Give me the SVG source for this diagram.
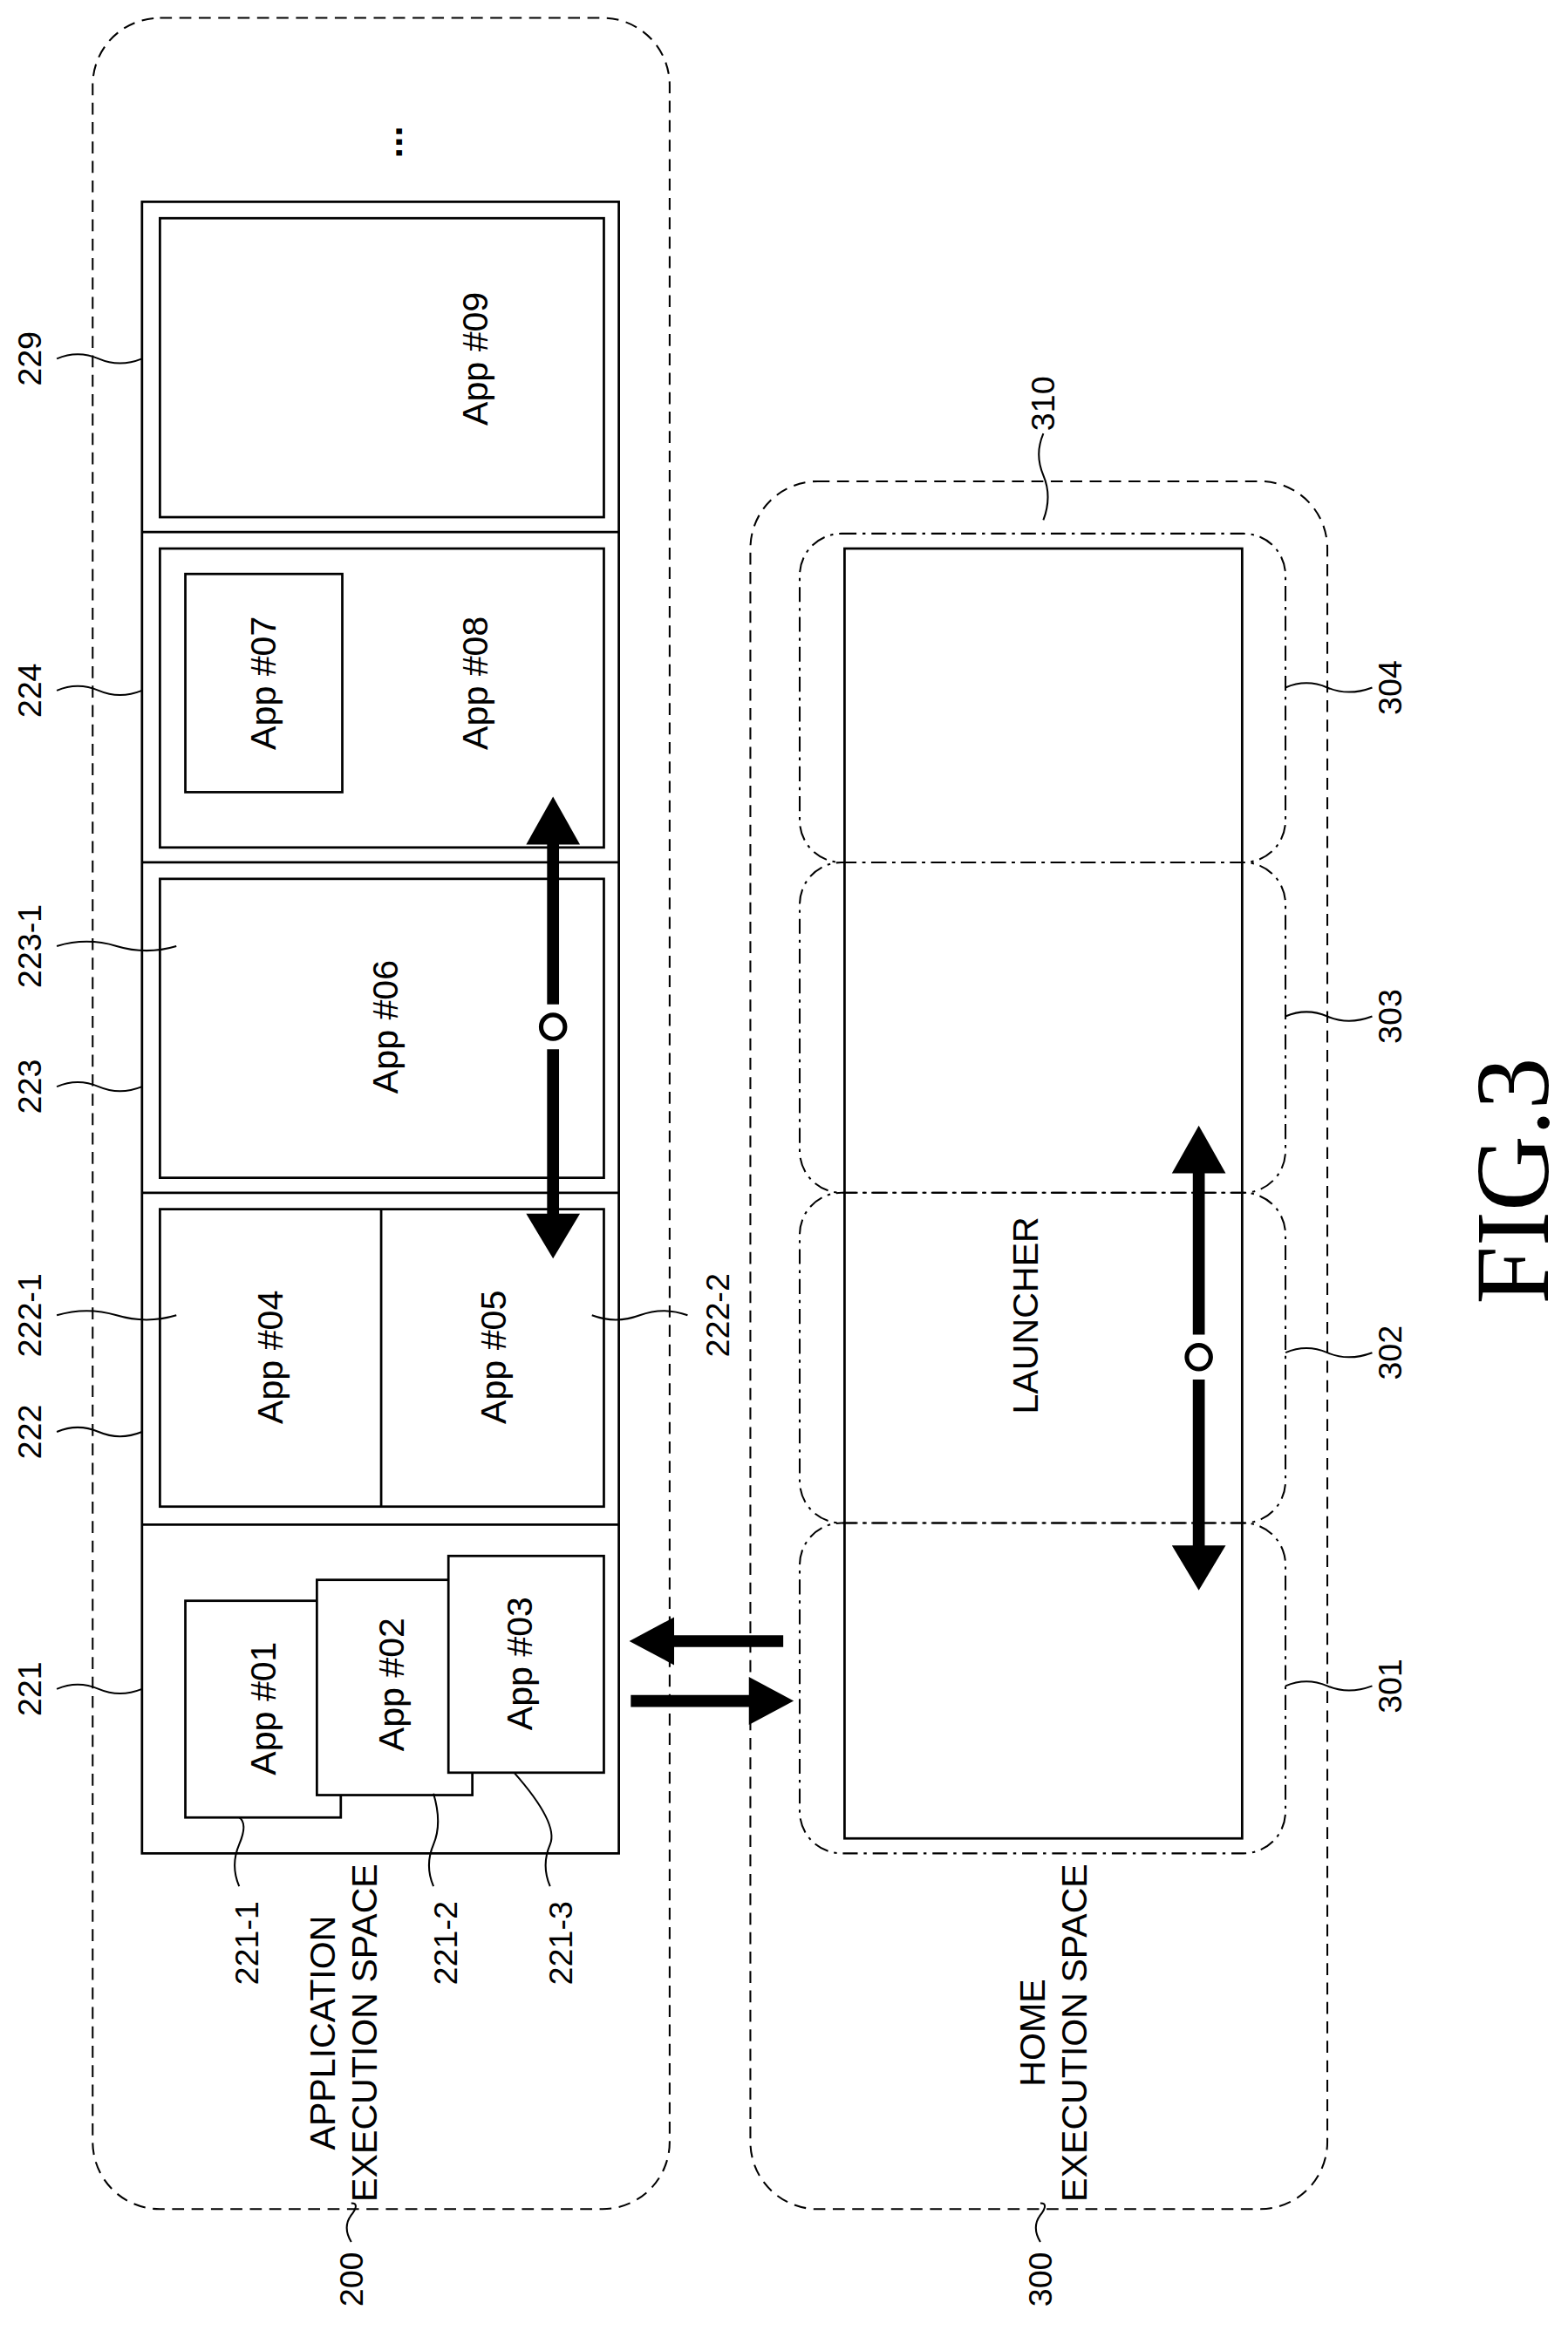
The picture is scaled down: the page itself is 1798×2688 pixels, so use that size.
<svg xmlns="http://www.w3.org/2000/svg" width="1798" height="2688" viewBox="0 0 1798 2688">
<style>
.b{fill:none;stroke:#000;stroke-width:1.6}
.w{fill:#fff;stroke:#000;stroke-width:1.6}
.d{fill:none;stroke:#000;stroke-width:1.2;stroke-dasharray:8 5}
.dd{fill:none;stroke:#000;stroke-width:1.2;stroke-dasharray:10 4 2 4}
.l{fill:none;stroke:#000;stroke-width:1.2}
.t{font-family:"Liberation Sans",Arial,sans-serif;font-size:24px;text-anchor:middle;dominant-baseline:central}
.n{font-family:"Liberation Sans",Arial,sans-serif;font-size:22px;text-anchor:middle;dominant-baseline:central}
.a{stroke:#000;stroke-width:8;fill:none}
</style>
<rect width="1798" height="2688" fill="#fff"/>
<g transform="scale(1.71401)">
<g id="space200"><rect class="d" x="62" y="12" width="386" height="1466" rx="45"/>
<text class="t" transform="translate(230,1360) rotate(-90)"><tspan x="0" dy="-14">APPLICATION</tspan><tspan x="0" dy="28">EXECUTION SPACE</tspan></text></g>
<g id="space300"><rect class="d" x="502" y="322" width="386" height="1156" rx="45"/>
<text class="t" transform="translate(705,1360) rotate(-90)"><tspan x="0" dy="-14">HOME</tspan><tspan x="0" dy="28">EXECUTION SPACE</tspan></text></g>
<g id="stack"><rect class="b" x="95" y="135" width="319" height="1105"/>
<line class="b" x1="95" y1="356" x2="414" y2="356"/><line class="b" x1="95" y1="577" x2="414" y2="577"/><line class="b" x1="95" y1="798" x2="414" y2="798"/><line class="b" x1="95" y1="1020" x2="414" y2="1020"/>
<text class="t" transform="translate(260,95) rotate(-90)" style="font-size:26px;font-weight:bold">...</text></g>
<g id="n229"><rect class="b" x="107" y="146" width="297" height="200"/><text class="t" transform="translate(318,240) rotate(-90)">App #09</text></g>
<g id="n224"><rect class="b" x="107" y="367" width="297" height="200"/><rect class="b" x="124" y="384" width="105" height="146"/>
<text class="t" transform="translate(176,457) rotate(-90)">App #07</text><text class="t" transform="translate(318,457) rotate(-90)">App #08</text></g>
<g id="n223"><rect class="b" x="107" y="588" width="297" height="200"/><text class="t" transform="translate(258,687) rotate(-90)">App #06</text></g>
<g id="n222"><rect class="b" x="107" y="809" width="297" height="199"/><line class="b" x1="255" y1="809" x2="255" y2="1008"/>
<text class="t" transform="translate(181,908) rotate(-90)">App #04</text><text class="t" transform="translate(330,908) rotate(-90)">App #05</text></g>
<g id="n221"><rect class="w" x="124" y="1071" width="104" height="145"/><text class="t" transform="translate(176,1143) rotate(-90)">App #01</text>
<rect class="w" x="212" y="1057" width="104" height="144"/><text class="t" transform="translate(262,1127) rotate(-90)">App #02</text>
<rect class="w" x="300" y="1041" width="104" height="145"/><text class="t" transform="translate(348,1113) rotate(-90)">App #03</text></g>
<g id="home"><rect class="dd" x="535" y="357" width="325" height="220" rx="28"/><rect class="dd" x="535" y="577" width="325" height="221" rx="28"/>
<rect class="dd" x="535" y="798" width="325" height="221" rx="28"/><rect class="dd" x="535" y="1019" width="325" height="221" rx="28"/>
<rect class="b" x="565" y="367" width="266" height="863"/><text class="t" transform="translate(686,880) rotate(-90)">LAUNCHER</text></g>
<g id="connectors">
<line class="a" x1="370" y1="560" x2="370" y2="672"/><line class="a" x1="370" y1="702" x2="370" y2="818"/><circle cx="370" cy="687" r="8" fill="none" stroke="#000" stroke-width="3"/>
<polygon points="370,533 352,565 388,565"/><polygon points="370,842 352,812 388,812"/>
<line class="a" x1="802" y1="780" x2="802" y2="893"/><line class="a" x1="802" y1="923" x2="802" y2="1038"/><circle cx="802" cy="908" r="8" fill="none" stroke="#000" stroke-width="3"/>
<polygon points="802,753 784,785 820,785"/><polygon points="802,1064 784,1034 820,1034"/>
<line class="a" x1="524" y1="1098" x2="445" y2="1098"/><polygon points="421,1098 451,1082 451,1114"/>
<line class="a" x1="422" y1="1138" x2="507" y2="1138"/><polygon points="531,1138 501,1122 501,1154"/>
<path class="l" d="M38,240 q14,-6 28,0 t29,0"/><path class="l" d="M38,462 q14,-6 28,0 t29,0"/><path class="l" d="M38,633 q20,-6 40,0 t40,0"/>
<path class="l" d="M38,727 q14,-6 28,0 t29,0"/><path class="l" d="M38,880 q20,-6 40,0 t40,0"/><path class="l" d="M38,958 q14,-6 28,0 t29,0"/>
<path class="l" d="M38,1130 q14,-6 28,0 t29,0"/><path class="l" d="M460,880 q-16,-6 -32,0 t-32,0"/>
<path class="l" d="M860,460 q14,-6 28,0 t30,0"/><path class="l" d="M860,680 q14,-6 28,0 t30,0"/><path class="l" d="M860,905 q14,-6 28,0 t30,0"/><path class="l" d="M860,1128 q14,-6 28,0 t30,0"/>
<path class="l" d="M698,290 q-6,14 0,28 t0,30"/><path class="l" d="M160,1262 q-6,-14 0,-28 t0,-18"/><path class="l" d="M290,1262 q-6,-14 0,-28 t0,-34"/><path class="l" d="M368,1262 q-6,-14 0,-28 t-24,-48"/>
<path class="l" d="M235,1500 q-6,-10 0,-18 t0,-8"/><path class="l" d="M696,1500 q-6,-10 0,-18 t0,-8"/>
</g>
<g id="labels">
<text class="n" transform="translate(20,240) rotate(-90)">229</text><text class="n" transform="translate(20,462) rotate(-90)">224</text>
<text class="n" transform="translate(20,633) rotate(-90)">223-1</text><text class="n" transform="translate(20,727) rotate(-90)">223</text>
<text class="n" transform="translate(20,880) rotate(-90)">222-1</text><text class="n" transform="translate(20,958) rotate(-90)">222</text>
<text class="n" transform="translate(20,1130) rotate(-90)">221</text><text class="n" transform="translate(480,880) rotate(-90)">222-2</text>
<text class="n" transform="translate(165,1300) rotate(-90)">221-1</text><text class="n" transform="translate(298,1300) rotate(-90)">221-2</text><text class="n" transform="translate(375,1300) rotate(-90)">221-3</text>
<text class="n" transform="translate(698,270) rotate(-90)">310</text><text class="n" transform="translate(930,460) rotate(-90)">304</text>
<text class="n" transform="translate(930,680) rotate(-90)">303</text><text class="n" transform="translate(930,905) rotate(-90)">302</text><text class="n" transform="translate(930,1128) rotate(-90)">301</text>
<text class="n" transform="translate(235,1525) rotate(-90)">200</text><text class="n" transform="translate(696,1525) rotate(-90)">300</text>
<text transform="translate(1012,790) rotate(-90)" style="font-family:'Liberation Serif',serif;font-size:70px;text-anchor:middle;dominant-baseline:central">FIG.3</text>
</g>
</g>
</svg>
